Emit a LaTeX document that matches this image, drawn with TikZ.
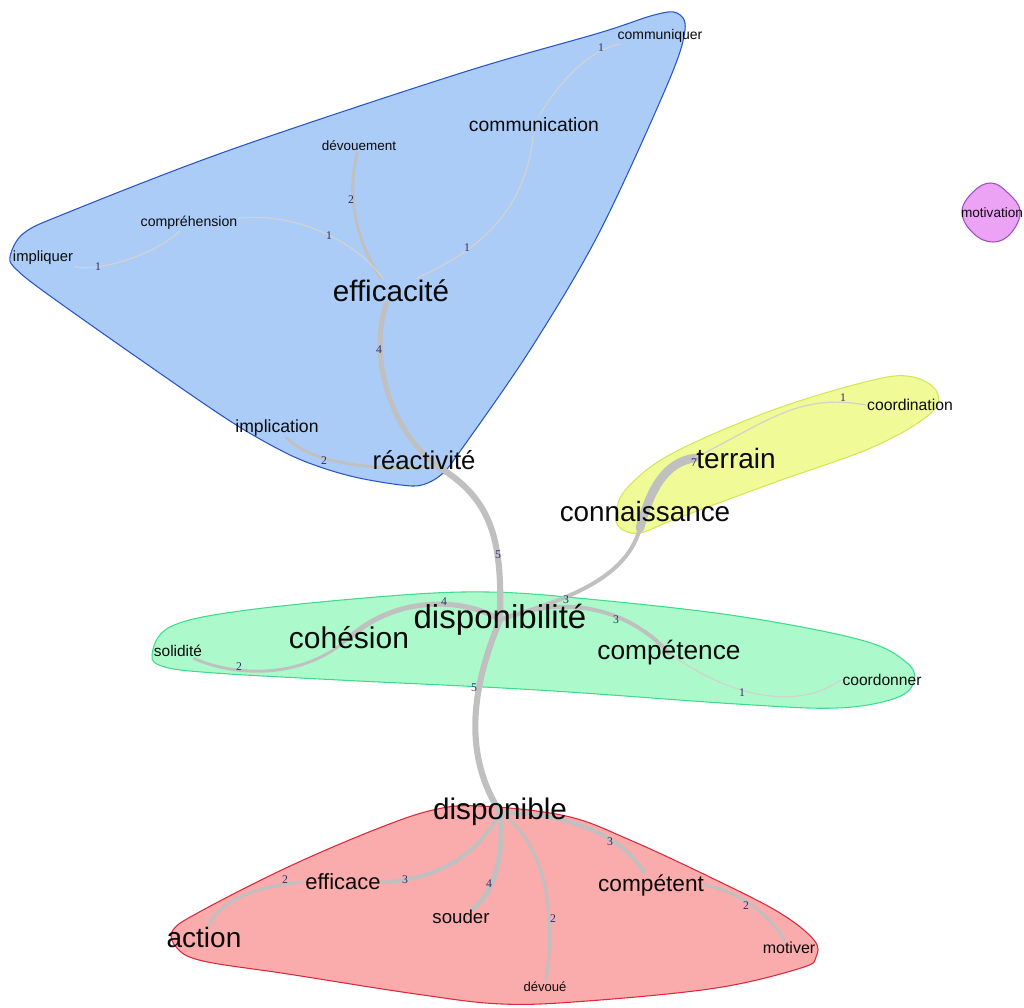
\documentclass[tikz,border=0pt]{standalone}
\usepackage{fontspec}
\setmainfont{Liberation Sans}
\newfontfamily\numfont{Liberation Serif}
\definecolor{edgegrey}{RGB}{192,192,192}
\definecolor{edgelight}{RGB}{210,210,206}
\definecolor{numcol}{RGB}{45,45,110}
\definecolor{bluefill}{RGB}{172,204,248}
\definecolor{blueline}{RGB}{40,85,200}
\definecolor{yelfill}{RGB}{240,250,150}
\definecolor{yelline}{RGB}{215,228,90}
\definecolor{grnfill}{RGB}{172,250,204}
\definecolor{grnline}{RGB}{60,220,140}
\definecolor{redfill}{RGB}{250,172,172}
\definecolor{redline}{RGB}{220,40,60}
\definecolor{purfill}{RGB}{236,162,245}
\definecolor{purline}{RGB}{160,80,190}
\pgfdeclarelayer{hull}
\pgfdeclarelayer{edges}
\pgfsetlayers{hull,edges,main}
\begin{document}
\begin{tikzpicture}[x=0.75pt,y=-0.75pt,
  word/.style={inner sep=1pt, text={rgb,255:red,10;green,10;blue,10}, font=\fontsize{#1}{#1}\selectfont},
  lab/.style={inner sep=0pt, text=numcol, font=\numfont\fontsize{8.8}{9}\selectfont},
  ed/.style={draw=edgegrey, line width=#1, line cap=round},
  edl/.style={draw=edgelight, line width=0.9pt, line cap=round},
  hullshape/.style={line width=0.8pt}]
\useasboundingbox (0,0) rectangle (1024,1007);

% ---------- words ----------
\node[word=10.5] (communiquer) at (660,36) {communiquer};
\node[word=14.5] (communication) at (534,125) {communication};
\node[word=10.1] (devouement) at (359,146) {dévouement};
\node[word=10.6] (comprehension) at (189,223) {compréhension};
\node[word=11.1] (impliquer) at (43,258) {impliquer};
\node[word=22.2] (efficacite) at (391,291) {efficacité};
\node[word=13.2] (implication) at (277,428) {implication};
\node[word=19.3] (reactivite) at (424,460) {réactivité};
\node[word=21] (terrain) at (736,458) {terrain};
\node[word=20.9] (connaissance) at (645,512) {connaissance};
\node[word=11.8] (coordination) at (910,405) {coordination};
\node[word=24.8] (disponibilite) at (500,620) {disponibilité};
\node[word=22.5] (cohesion) at (349,638) {cohésion};
\node[word=19.7] (competence) at (669,653) {compétence};
\node[word=11.6] (solidite) at (178,651) {solidité};
\node[word=11.7] (coordonner) at (882,680) {coordonner};
\node[word=22.3] (disponible) at (500,812) {disponible};
\node[word=16.5] (efficace) at (343,882) {efficace};
\node[word=17] (competent) at (651,885) {compétent};
\node[word=14] (souder) at (461,917) {souder};
\node[word=21] (action) at (204,937) {action};
\node[word=12] (motiver) at (789,948) {motiver};
\node[word=9.8] (devoue) at (545,987) {dévoué};
\node[word=10.2] (motivation) at (992,213) {motivation};

\coordinate (vreac) at (437,466);
\coordinate (vconn) at (640,528);

% ---------- hulls ----------
\begin{pgfonlayer}{hull}
\draw[hullshape, draw=blueline, fill=bluefill] plot[smooth cycle, tension=0.55] coordinates {
 (10,257) (24,233) (69,212) (230,150) (461,73) (599,33) (654,15) (677,13) (685,30)
 (668,83) (599,233) (530,350) (461,450) (442,474) (422,485) (401,485) (359,478)
 (323,468) (286,453) (230,421) (138,358) (46,293) (17,270)};
\draw[hullshape, draw=yelline, fill=yelfill] plot[smooth cycle, tension=0.6] coordinates {
 (616,512) (628,487) (673,453) (773,410) (873,380) (913,377) (937,392) (930,414)
 (873,447) (773,483) (673,520) (640,533) (620,528)};
\draw[hullshape, draw=grnline, fill=grnfill] plot[smooth cycle, tension=0.6] coordinates {
 (152,655) (170,627) (240,611) (389,596) (488,592) (588,599) (737,616) (861,640)
 (906,662) (914,681) (896,698) (837,708) (737,704) (538,690) (339,680) (215,673) (165,667)};
\draw[hullshape, draw=redline, fill=redfill] plot[smooth cycle, tension=0.6] coordinates {
 (433,810) (480,806) (566,816) (630,840) (716,880) (780,913) (814,940) (816,957)
 (801,968) (716,988) (587,1001) (502,1004) (416,994) (288,974) (203,961) (177,948)
 (173,930) (203,910) (288,867) (374,830)};
\draw[hullshape, draw=purline, fill=purfill] plot[smooth cycle, tension=0.7] coordinates {
 (991,183) (1008,193) (1020,211) (1011,233) (993,242) (973,233) (962,212) (973,192)};
\end{pgfonlayer}

% ---------- edges ----------
\begin{pgfonlayer}{edges}
\draw[edl] (efficacite) .. controls (450,262) and (525,230) .. (communication);
\draw[edl] (communication) .. controls (560,80) and (590,50) .. (communiquer);
\draw[ed=2.2pt] (efficacite) .. controls (360,250) and (345,200) .. (devouement);
\draw[edl] (efficacite) .. controls (360,245) and (300,212) .. (comprehension);
\draw[edl] (impliquer) .. controls (95,272) and (150,258) .. (comprehension);
\draw[ed=3.8pt] (efficacite) .. controls (370,350) and (385,425) .. (vreac);
\draw[ed=2.2pt] (implication) .. controls (310,462) and (370,472) .. (vreac);
\draw[ed=4.6pt] (vreac) .. controls (495,500) and (502,545) .. (disponibilite.center);
\draw[ed=3.8pt] (disponibilite.center) .. controls (470,600) and (400,592) .. (cohesion.center);
\draw[ed=2.2pt] (cohesion.center) .. controls (300,682) and (230,675) .. (solidite);
\draw[ed=3pt] (disponibilite.center) .. controls (550,603) and (625,585) .. (vconn);
\draw[ed=6.5pt] (vconn) .. controls (650,490) and (665,462) .. (terrain.west);
\draw[edl] (terrain.west) .. controls (770,420) and (800,393) .. (coordination.west);
\draw[ed=3pt] (disponibilite.center) .. controls (560,595) and (625,605) .. (competence.center);
\draw[edl] (competence.center) .. controls (720,690) and (790,715) .. (coordonner.west);
\draw[ed=4.6pt] (disponibilite.center) .. controls (475,680) and (460,750) .. (disponible.center);
\draw[ed=3pt] (disponible.center) .. controls (480,852) and (440,880) .. (efficace.east);
\draw[ed=2.2pt] (efficace.west) .. controls (260,885) and (220,900) .. (action);
\draw[ed=3.8pt] (disponible.center) .. controls (505,860) and (492,895) .. (souder);
\draw[ed=2.2pt] (disponible.center) .. controls (540,840) and (558,900) .. (devoue);
\draw[ed=3pt] (disponible.center) .. controls (580,815) and (625,840) .. (competent);
\draw[ed=2.2pt] (competent.east) .. controls (740,892) and (770,915) .. (motiver);
\end{pgfonlayer}

% ---------- edge weights ----------
\node[lab] (l1) at (601,48) {1};
\node[lab] (l2) at (467,248) {1};
\node[lab] (l3) at (351,200) {2};
\node[lab] (l4) at (329,236) {1};
\node[lab] (l5) at (98,267) {1};
\node[lab] (l6) at (379,350) {4};
\node[lab] (l7) at (324,461) {2};
\node[lab] (l8) at (498,555) {5};
\node[lab] (l9) at (694,463) {7};
\node[lab] (l10) at (843,398) {1};
\node[lab] (l11) at (444,602) {4};
\node[lab] (l12) at (566,600) {3};
\node[lab] (l13) at (616,620) {3};
\node[lab] (l14) at (239,667) {2};
\node[lab] (l15) at (474,688) {5};
\node[lab] (l16) at (742,693) {1};
\node[lab] (l17) at (405,880) {3};
\node[lab] (l18) at (285,880) {2};
\node[lab] (l19) at (489,884) {4};
\node[lab] (l20) at (553,919) {2};
\node[lab] (l21) at (610,842) {3};
\node[lab] (l22) at (746,906) {2};
\end{tikzpicture}
\end{document}
